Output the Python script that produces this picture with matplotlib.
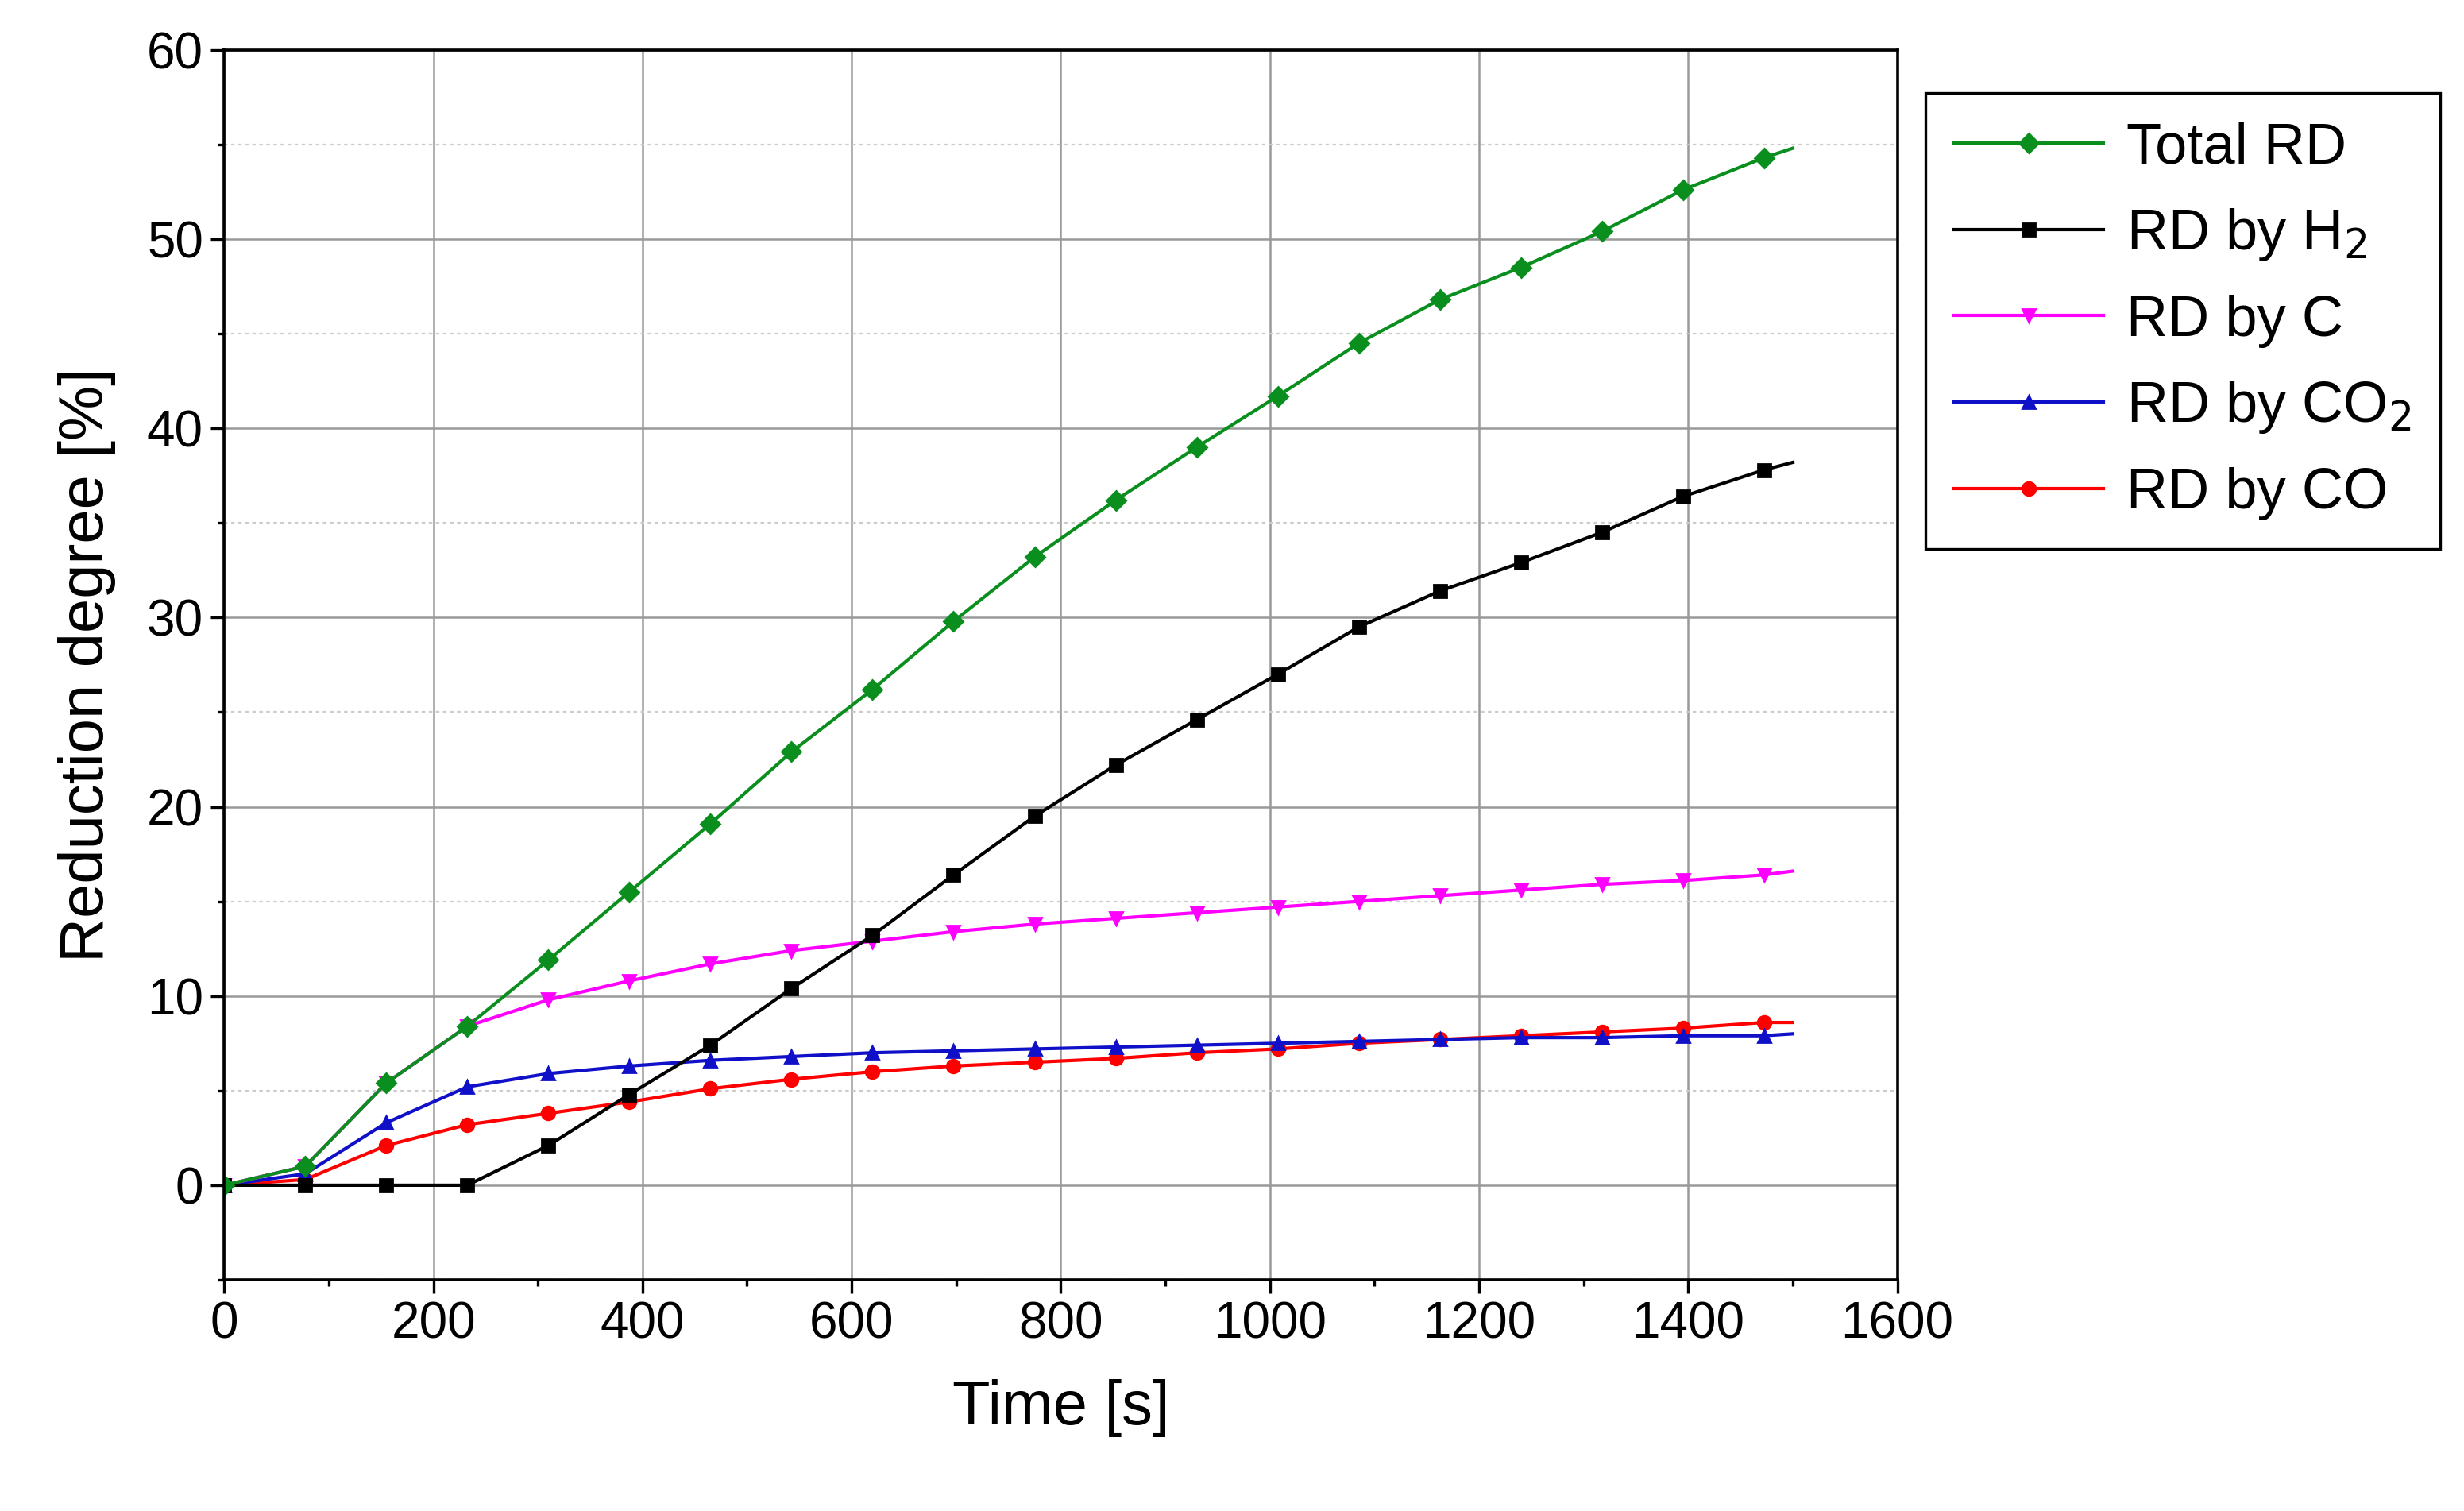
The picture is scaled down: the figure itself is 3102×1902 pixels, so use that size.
import matplotlib.pyplot as plt

# time points of the markers (s); last point is the line end without marker
time = [0, 77.5, 155, 232.5, 310, 387.5, 465, 542.5, 620, 697.5, 775, 852.5,
        930, 1007.5, 1085, 1162.5, 1240, 1317.5, 1395, 1472.5, 1500]

total_rd = [0, 1.0, 5.4, 8.4, 11.9, 15.5, 19.1, 22.9, 26.2, 29.8, 33.2, 36.2,
            39.0, 41.7, 44.5, 46.8, 48.5, 50.4, 52.6, 54.3, 54.8]
rd_h2 = [0, 0, 0, 0, 2.1, 4.8, 7.4, 10.4, 13.2, 16.4, 19.5, 22.2,
         24.6, 27.0, 29.5, 31.4, 32.9, 34.5, 36.4, 37.8, 38.2]
rd_c = [0, 1.0, 5.4, 8.4, 9.8, 10.8, 11.7, 12.4, 12.9, 13.4, 13.8, 14.1,
        14.4, 14.7, 15.0, 15.3, 15.6, 15.9, 16.1, 16.4, 16.6]
rd_co2 = [0, 0.6, 3.3, 5.2, 5.9, 6.3, 6.6, 6.8, 7.0, 7.1, 7.2, 7.3,
          7.4, 7.5, 7.6, 7.7, 7.8, 7.8, 7.9, 7.9, 8.0]
rd_co = [0, 0.3, 2.1, 3.2, 3.8, 4.4, 5.1, 5.6, 6.0, 6.3, 6.5, 6.7,
         7.0, 7.2, 7.5, 7.7, 7.9, 8.1, 8.3, 8.6, 8.6]

series = [
    ("Total RD", total_rd, "#0a8f1e", "D"),
    ("RD by H$_2$", rd_h2, "black", "s"),
    ("RD by C", rd_c, "magenta", "v"),
    ("RD by CO$_2$", rd_co2, "#1010c8", "^"),
    ("RD by CO", rd_co, "red", "o"),
]

plt.rcParams["font.family"] = "Liberation Sans"
fig = plt.figure(figsize=(15.51, 9.51), dpi=200)
ax = fig.add_axes([0.091, 0.153, 0.679, 0.814])

# draw in reverse so Total RD sits on top
for name, vals, col, mk in reversed(series):
    ax.plot(time, vals, color=col, lw=1.5, marker=mk, markersize=6,
            markevery=list(range(len(time) - 1)), label=name)

ax.set_xlim(0, 1600)
ax.set_ylim(-5, 60)
ax.set_xticks(range(0, 1601, 200))
ax.set_yticks(range(0, 61, 10))
ax.set_xticks(range(100, 1600, 200), minor=True)
ax.set_yticks(range(-5, 60, 10), minor=True)
ax.grid(True, which="major", color="#999999", lw=0.9)
ax.grid(True, which="minor", axis="y", color="#cccccc", lw=0.8, ls=(0, (2, 2)))
ax.set_axisbelow(True)
ax.tick_params(which="both", direction="out", labelsize=23, length=6, width=1.2)
ax.tick_params(which="minor", length=3)
for s in ax.spines.values():
    s.set_linewidth(1.3)

ax.set_xlabel("Time [s]", fontsize=28, labelpad=14)
ax.set_ylabel("Reduction degree [%]", fontsize=28, labelpad=14)

handles, labels = ax.get_legend_handles_labels()
leg = ax.legend(handles[::-1], labels[::-1], loc="upper left",
                bbox_to_anchor=(1.017, 0.965), fontsize=26, fancybox=False,
                edgecolor="black", handlelength=2.6, labelspacing=0.55,
                borderpad=0.5, borderaxespad=0, handletextpad=0.4, framealpha=1)
leg.get_frame().set_linewidth(1.2)

fig.savefig("out.png", dpi=200)
